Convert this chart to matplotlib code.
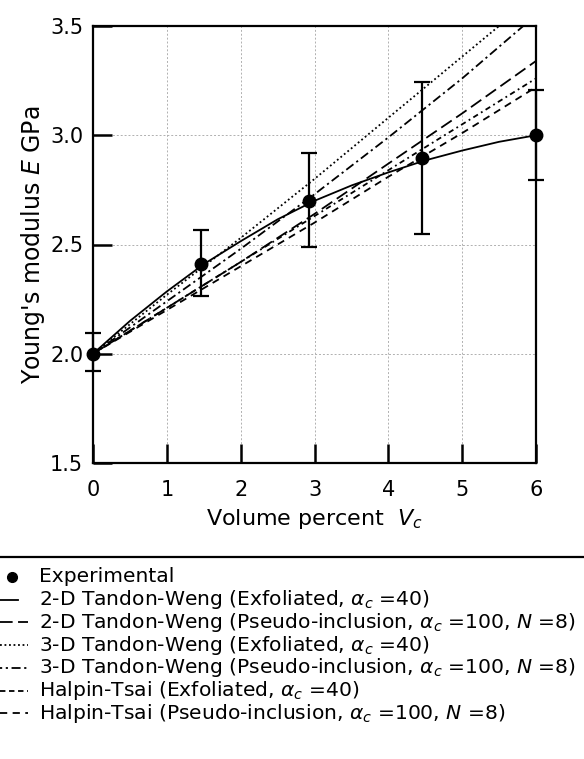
import matplotlib
matplotlib.use("Agg")
import matplotlib.pyplot as plt
from matplotlib.lines import Line2D
import numpy as np

plt.rcParams['font.family'] = ['DejaVu Sans']
plt.rcParams['mathtext.fontset'] = 'dejavusans'

# experimental data (volume percent, modulus, error bar limits)
exp_x = [0.0, 1.46, 2.93, 4.45, 6.0]
exp_y = [2.0, 2.41, 2.70, 2.895, 3.0]
exp_lo = [1.92, 2.265, 2.49, 2.547, 2.797]
exp_hi = [2.094, 2.567, 2.92, 3.243, 3.205]

# model curves
vc_fine = [0, 0.5, 1, 1.5, 2, 2.5, 3, 3.5, 4, 4.5, 5, 5.5, 6]
tw2d_exf = [2.0, 2.15, 2.285, 2.41, 2.515, 2.615, 2.70, 2.77, 2.83, 2.885, 2.93, 2.97, 3.0]
vc = [0, 1, 2, 3, 4, 5, 6]
tw2d_pseudo = [2.0, 2.21, 2.42, 2.64, 2.87, 3.10, 3.34]
tw3d_exf = [2.0, 2.27, 2.53, 2.80, 3.08, 3.36, 3.64]
tw3d_pseudo = [2.0, 2.24, 2.48, 2.73, 2.99, 3.26, 3.55]
ht_exf = [2.0, 2.21, 2.42, 2.63, 2.84, 3.05, 3.26]
ht_pseudo = [2.0, 2.20, 2.40, 2.60, 2.81, 3.01, 3.22]

labels = [
    'Experimental',
    r'2-D Tandon-Weng (Exfoliated, $\alpha_c$ =40)',
    r'2-D Tandon-Weng (Pseudo-inclusion, $\alpha_c$ =100, $N$ =8)',
    r'3-D Tandon-Weng (Exfoliated, $\alpha_c$ =40)',
    r'3-D Tandon-Weng (Pseudo-inclusion, $\alpha_c$ =100, $N$ =8)',
    r'Halpin-Tsai (Exfoliated, $\alpha_c$ =40)',
    r'Halpin-Tsai (Pseudo-inclusion, $\alpha_c$ =100, $N$ =8)',
]

W, H = 584, 759
fig = plt.figure(figsize=(W / 100, H / 100), dpi=100)
ax = fig.add_axes([93 / W, 1 - 463 / H, 443 / W, 437 / H])

lw = 1.3
d_2dp = (7, 3)
d_3de = (1, 1.5)
d_3dp = (5, 2, 1.2, 2)
d_hte = (3, 2, 1, 2)
d_htp = (4, 3)

ax.plot(vc_fine, tw2d_exf, color='black', lw=lw, linestyle='-')
ax.plot(vc, tw2d_pseudo, color='black', lw=lw, dashes=d_2dp)
ax.plot(vc, tw3d_exf, color='black', lw=lw, dashes=d_3de)
ax.plot(vc, tw3d_pseudo, color='black', lw=lw, dashes=d_3dp)
ax.plot(vc, ht_exf, color='black', lw=lw, dashes=d_hte)
ax.plot(vc, ht_pseudo, color='black', lw=lw, dashes=d_htp)

yerr = [np.array(exp_y) - np.array(exp_lo), np.array(exp_hi) - np.array(exp_y)]
ax.errorbar(exp_x, exp_y, yerr=yerr, fmt='o', color='black',
            markersize=9, capsize=6, elinewidth=1.6, capthick=1.6,
            clip_on=False, zorder=5)

ax.set_xlim(0, 6)
ax.set_ylim(1.5, 3.5)
ax.set_xticks([0, 1, 2, 3, 4, 5, 6])
ax.set_yticks([1.5, 2.0, 2.5, 3.0, 3.5])
ax.set_yticklabels(['1.5', '2.0', '2.5', '3.0', '3.5'])
ax.tick_params(direction='in', length=13.5, width=1.8, labelsize=15,
               top=False, right=False)
ax.tick_params(axis='y', pad=7)
ax.tick_params(axis='x', pad=12)
ax.grid(True, color='#b0b0b0', linestyle=(0, (2, 2)), linewidth=0.7)
for s in ax.spines.values():
    s.set_linewidth(1.6)

ax.set_xlabel(r'Volume percent  $V_c$', fontsize=16, labelpad=5)
ax.set_ylabel(r"Young's modulus $E$ GPa", fontsize=17, labelpad=2)

# legend under the plot, laid out row by row
fig.add_artist(Line2D([0, 1], [1 - 557 / H, 1 - 557 / H],
                      transform=fig.transFigure, color='black', lw=1.6))
styles = [None, '-', d_2dp, d_3de, (1.2, 2, 1.2, 2, 5, 2), (3, 2), d_htp]
row0, pitch = 577, 22.7
for i, (lab, st) in enumerate(zip(labels, styles)):
    yf = 1 - (row0 + i * pitch) / H
    if st is None:
        fig.add_artist(Line2D([12 / W], [yf], transform=fig.transFigure,
                              marker='o', markersize=7, color='black',
                              linestyle='none'))
    elif st == '-':
        fig.add_artist(Line2D([0, 18 / W], [yf, yf], transform=fig.transFigure,
                              color='black', lw=lw))
    else:
        fig.add_artist(Line2D([0, 28 / W], [yf, yf], transform=fig.transFigure,
                              color='black', lw=lw, dashes=st))
    fig.text(39 / W, yf, lab, fontsize=14.6, va='center', ha='left')

fig.savefig('out.png', dpi=100)
